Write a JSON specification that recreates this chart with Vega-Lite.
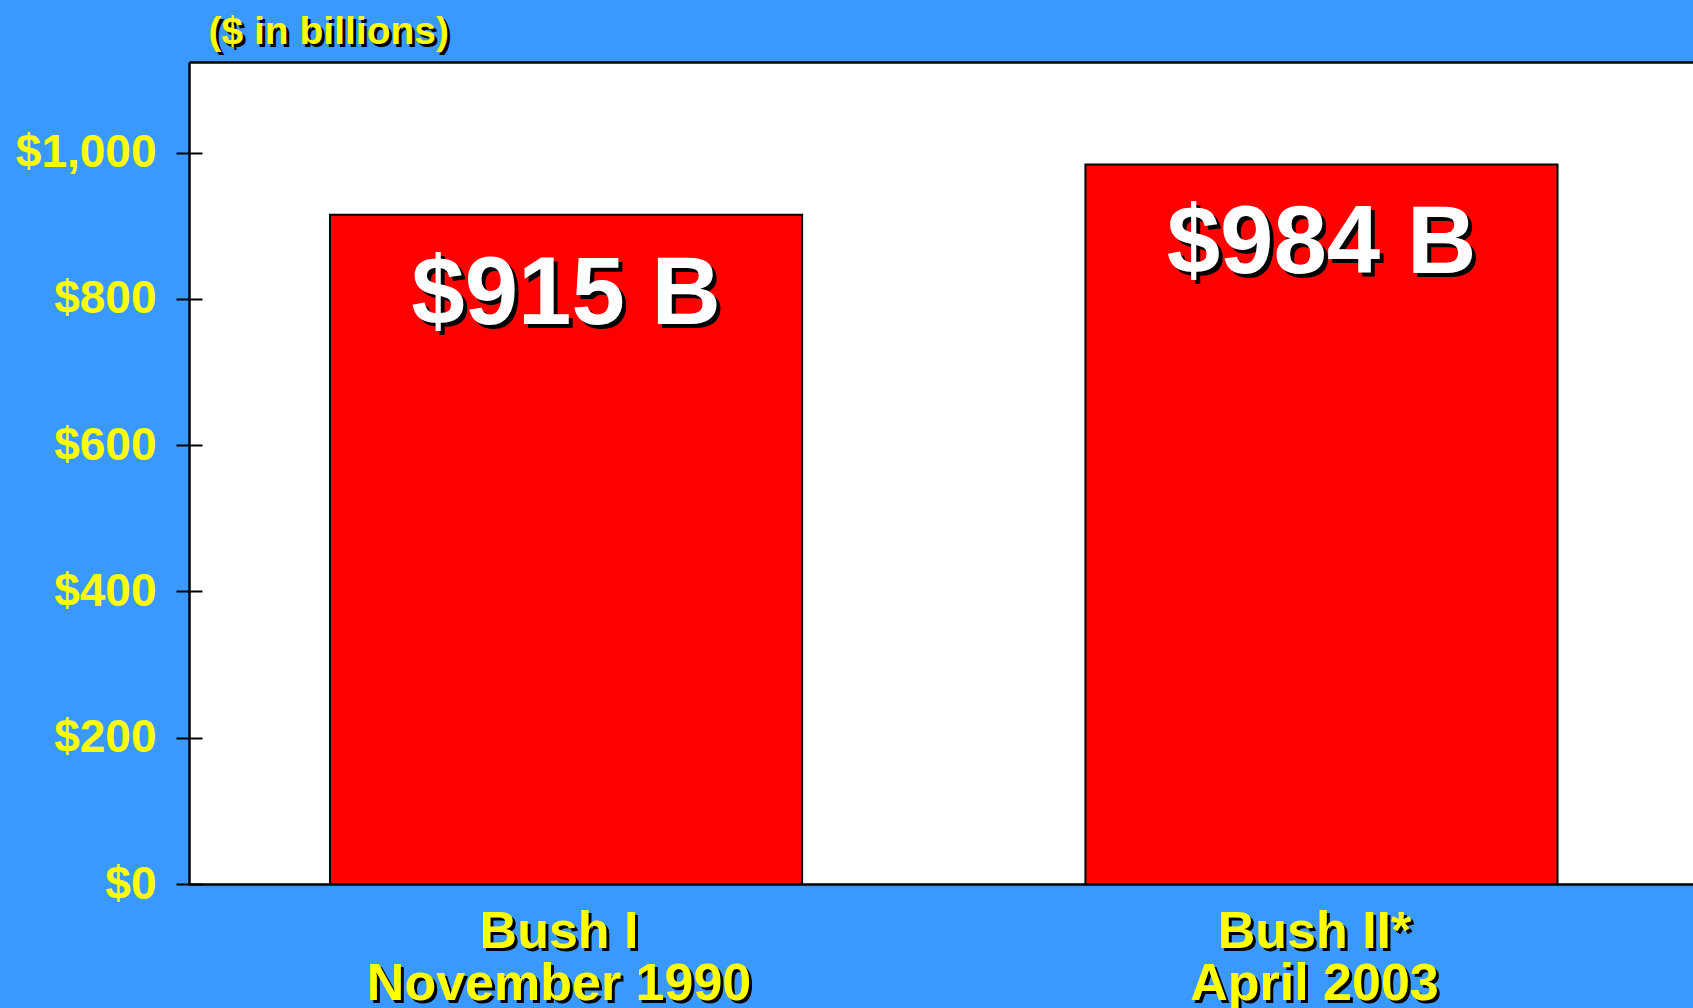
{
  "$schema": "https://vega.github.io/schema/vega-lite/v6.json",
  "autosize": {"type": "none"},
  "padding": {"left": 189, "top": 62, "right": 0, "bottom": 124},
  "width": 1504,
  "height": 822,
  "background": "#3999ff",
  "config": {
    "view": {"fill": "white", "stroke": null},
    "font": "Liberation Sans",
    "axis": {"grid": false, "labelFont": "Liberation Sans", "titleFont": "Liberation Sans", "labelFontWeight": "bold", "titleFontWeight": "bold", "zindex": 1, "labelLimit": 0, "labelOverlap": false}
  },
  "data": {
    "values": [
      {"period": "Bush I\nNovember 1990", "debt": 915, "label": "$915 B"},
      {"period": "Bush II*\nApril 2003", "debt": 984, "label": "$984 B"}
    ]
  },
  "encoding": {
    "x": {"field": "period", "type": "nominal", "sort": null,
      "scale": {"paddingInner": 0.375, "paddingOuter": 0.183, "align": 0.51}},
    "y": {"field": "debt", "type": "quantitative", "scale": {"domain": [0, 1124], "nice": false, "zero": true}}
  },
  "layer": [
    {
      "mark": {"type": "bar", "color": "#ff0000", "stroke": "black", "strokeWidth": 2},
      "encoding": {
        "x": {"field": "period", "type": "nominal", "sort": null,
          "axis": {"orient": "bottom", "title": null, "domain": true, "domainColor": "black", "domainWidth": 2.5, "ticks": false, "tickSize": 0,
            "labelColor": "black", "labelFontSize": 52, "labelLineHeight": 52, "labelPadding": 25, "labelOffset": -4, "labelAngle": 0, "labelLimit": 0,
            "labelExpr": "split(datum.label, '\\n')"}},
        "y": {"field": "debt", "type": "quantitative",
          "axis": {"orient": "left", "values": [0, 200, 400, 600, 800, 1000], "format": "$,.0f",
            "domain": true, "domainColor": "black", "domainWidth": 2.5,
            "ticks": true, "tickSize": 13, "tickColor": "black", "tickWidth": 2,
            "labelColor": "#ffff00", "labelFontSize": 46, "labelPadding": 20,
            "title": "($ in billions)", "titleColor": "black", "titleFontSize": 39, "titleAngle": 0,
            "titleAlign": "left", "titleBaseline": "alphabetic", "titleX": 22, "titleY": -16}}
      }
    },
    {
      "mark": {"type": "text", "color": "black", "fontSize": 96, "fontWeight": "bold", "baseline": "alphabetic", "align": "center", "dx": 4, "dy": 113},
      "encoding": {
        "text": {"field": "label"},
        "x": {"field": "period", "type": "nominal", "sort": null,
          "axis": {"orient": "bottom", "title": null, "domain": false, "ticks": false, "tickSize": 0,
            "labelColor": "#ffff00", "labelFontSize": 52, "labelLineHeight": 52, "labelPadding": 22, "labelOffset": -7, "labelAngle": 0, "labelLimit": 0,
            "labelExpr": "split(datum.label, '\\n')"}},
        "y": {"field": "debt", "type": "quantitative",
          "axis": {"orient": "left", "offset": -13, "values": [0, 200, 400, 600, 800, 1000],
            "domain": false, "labels": false, "ticks": true, "tickSize": 13, "tickColor": "black", "tickWidth": 2,
            "title": "($ in billions)", "titleColor": "#ffff00", "titleFontSize": 39, "titleAngle": 0,
            "titleAlign": "left", "titleBaseline": "alphabetic", "titleX": 6, "titleY": -19}}
      }
    },
    {
      "mark": {"type": "text", "color": "white", "fontSize": 96, "fontWeight": "bold", "baseline": "alphabetic", "align": "center", "dy": 109},
      "encoding": {
        "text": {"field": "label"},
        "x": {"field": "period", "type": "nominal", "sort": null,
          "axis": {"orient": "top", "title": null, "domain": true, "domainColor": "black", "domainWidth": 2.5, "ticks": false, "labels": false}},
        "y": {"field": "debt", "type": "quantitative", "axis": null}
      }
    }
  ],
  "resolve": {"axis": {"x": "independent", "y": "independent"}}
}
